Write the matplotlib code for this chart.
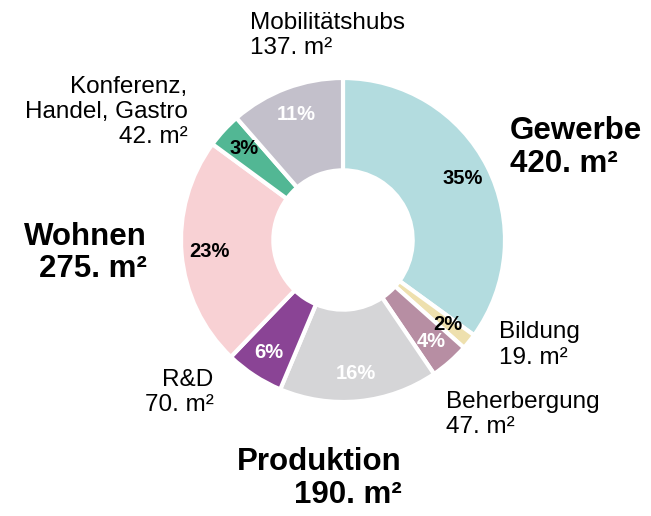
import numpy as np
import matplotlib
matplotlib.use('Agg')
import matplotlib.pyplot as plt

plt.rcParams['font.family'] = ['Liberation Sans', 'DejaVu Sans']

# data
names = ['Gewerbe', 'Bildung', 'Beherbergung', 'Produktion', 'R&D', 'Wohnen',
         'Konferenz,\nHandel, Gastro', 'Mobilitätshubs']
areas = [420, 19, 47, 190, 70, 275, 42, 137]
pct_labels = ['35%', '2%', '4%', '16%', '6%', '23%', '3%', '11%']
colors = ['#b3dcdf', '#eee0ae', '#b78ea3', '#d5d5d7', '#8a4495', '#f8d1d4',
          '#52b794', '#c3c0cb']
pct_colors = ['black', 'black', 'white', 'white', 'white', 'black', 'black', 'white']
big = [True, False, False, True, False, True, False, False]

# label placement (data units, pie radius = 1)
label_pos = [(1.03, 0.57, 'left'), (0.963, -0.648, 'left'), (0.636, -1.08, 'left'),
             (0.36, -1.47, 'right'), (-0.80, -0.944, 'right'), (-1.21, -0.08, 'right'),
             (-0.96, 0.79, 'right'), (-0.574, 1.265, 'left')]

fig = plt.figure(figsize=(6.51, 5.16), dpi=100)
ax = fig.add_axes([0, 0, 1, 1])

wedges, _ = ax.pie(areas, colors=colors, startangle=90, counterclock=False,
                   radius=1.0, wedgeprops=dict(width=0.57, edgecolor='white', linewidth=3))

for w, txt, c in zip(wedges, pct_labels, pct_colors):
    ang = np.deg2rad((w.theta1 + w.theta2) / 2)
    ax.text(0.83 * np.cos(ang), 0.83 * np.sin(ang), txt, ha='center', va='center',
            fontsize=14.5, fontweight='bold', color=c)

for name, a, b, (x, y, ha) in zip(names, areas, big, label_pos):
    s = f'{name}\n{a}. m²'
    if b:
        ax.text(x, y, s, ha=ha, va='center', multialignment=ha, fontsize=22.5,
                fontweight='bold', linespacing=1.12)
    else:
        ax.text(x, y, s, ha=ha, va='center', multialignment=ha, fontsize=17.5,
                linespacing=1.18)

ax.set_xlim(-343 / 162, (651 - 343) / 162)
ax.set_ylim((240 - 516) / 162, 240 / 162)
ax.set_aspect('equal')
ax.axis('off')

fig.savefig('out.png', dpi=100)
